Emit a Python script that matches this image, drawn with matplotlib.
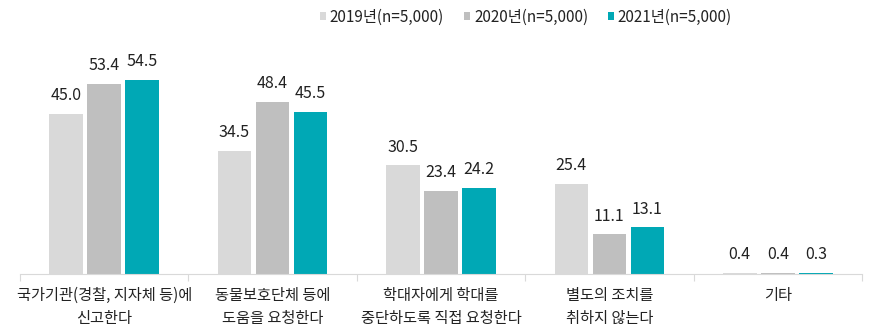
import matplotlib
matplotlib.use("Agg")
import matplotlib.pyplot as plt
import numpy as np

plt.rcParams['font.family'] = ['Noto Sans CJK KR', 'DejaVu Sans']

categories = ["국가기관(경찰, 지자체 등)에\n신고한다", "동물보호단체 등에\n도움을 요청한다",
              "학대자에게 학대를\n중단하도록 직접 요청한다", "별도의 조치를\n취하지 않는다", "기타"]
series_names = ["2019년(n=5,000)", "2020년(n=5,000)", "2021년(n=5,000)"]
v2019 = [45.0, 34.5, 30.5, 25.4, 0.4]
v2020 = [53.4, 48.4, 23.4, 11.1, 0.4]
v2021 = [54.5, 45.5, 24.2, 13.1, 0.3]
colors = ["#d9d9d9", "#bfbfbf", "#00a8b5"]

W, H = 883, 333
fig = plt.figure(figsize=(W/100, H/100), dpi=100)
ax = fig.add_axes([20/W, 59/H, 842/W, 234/H])

x = np.arange(len(categories))
bw = 0.20
off = 0.226
for i, (vals, c) in enumerate(zip([v2019, v2020, v2021], colors)):
    pos = x + (i - 1) * off
    ax.bar(pos, vals, width=bw, color=c, label=series_names[i])
    for p, v in zip(pos, vals):
        ax.annotate(f"{v:.1f}", (p, v), xytext=(0, 7), textcoords="offset points",
                    ha="center", va="bottom", fontsize=11.5, color="#222222")

ax.set_xlim(-0.5, len(categories) - 0.5)
ax.set_ylim(0, 65.7)
for s in ["top", "right", "left"]:
    ax.spines[s].set_visible(False)
ax.spines["bottom"].set_color("#d9d9d9")
ax.set_yticks([])
ax.set_xticks(np.arange(len(categories) + 1) - 0.5)
ax.set_xticklabels([])
ax.tick_params(axis="x", length=5, color="#d9d9d9")
for xi, lab in zip(x, categories):
    ax.text(xi, -3.6, lab, ha="center", va="top", fontsize=11, color="#222222",
            linespacing=1.45, transform=ax.transData)

leg = fig.legend(loc="center", bbox_to_anchor=(526/W, 1 - 17/H), ncol=3, frameon=False,
                 fontsize=11, handlelength=0.4, handleheight=0.4, handletextpad=0.25,
                 columnspacing=1.3)
for t in leg.get_texts():
    t.set_color("#222222")

fig.savefig("out.png", dpi=100)
